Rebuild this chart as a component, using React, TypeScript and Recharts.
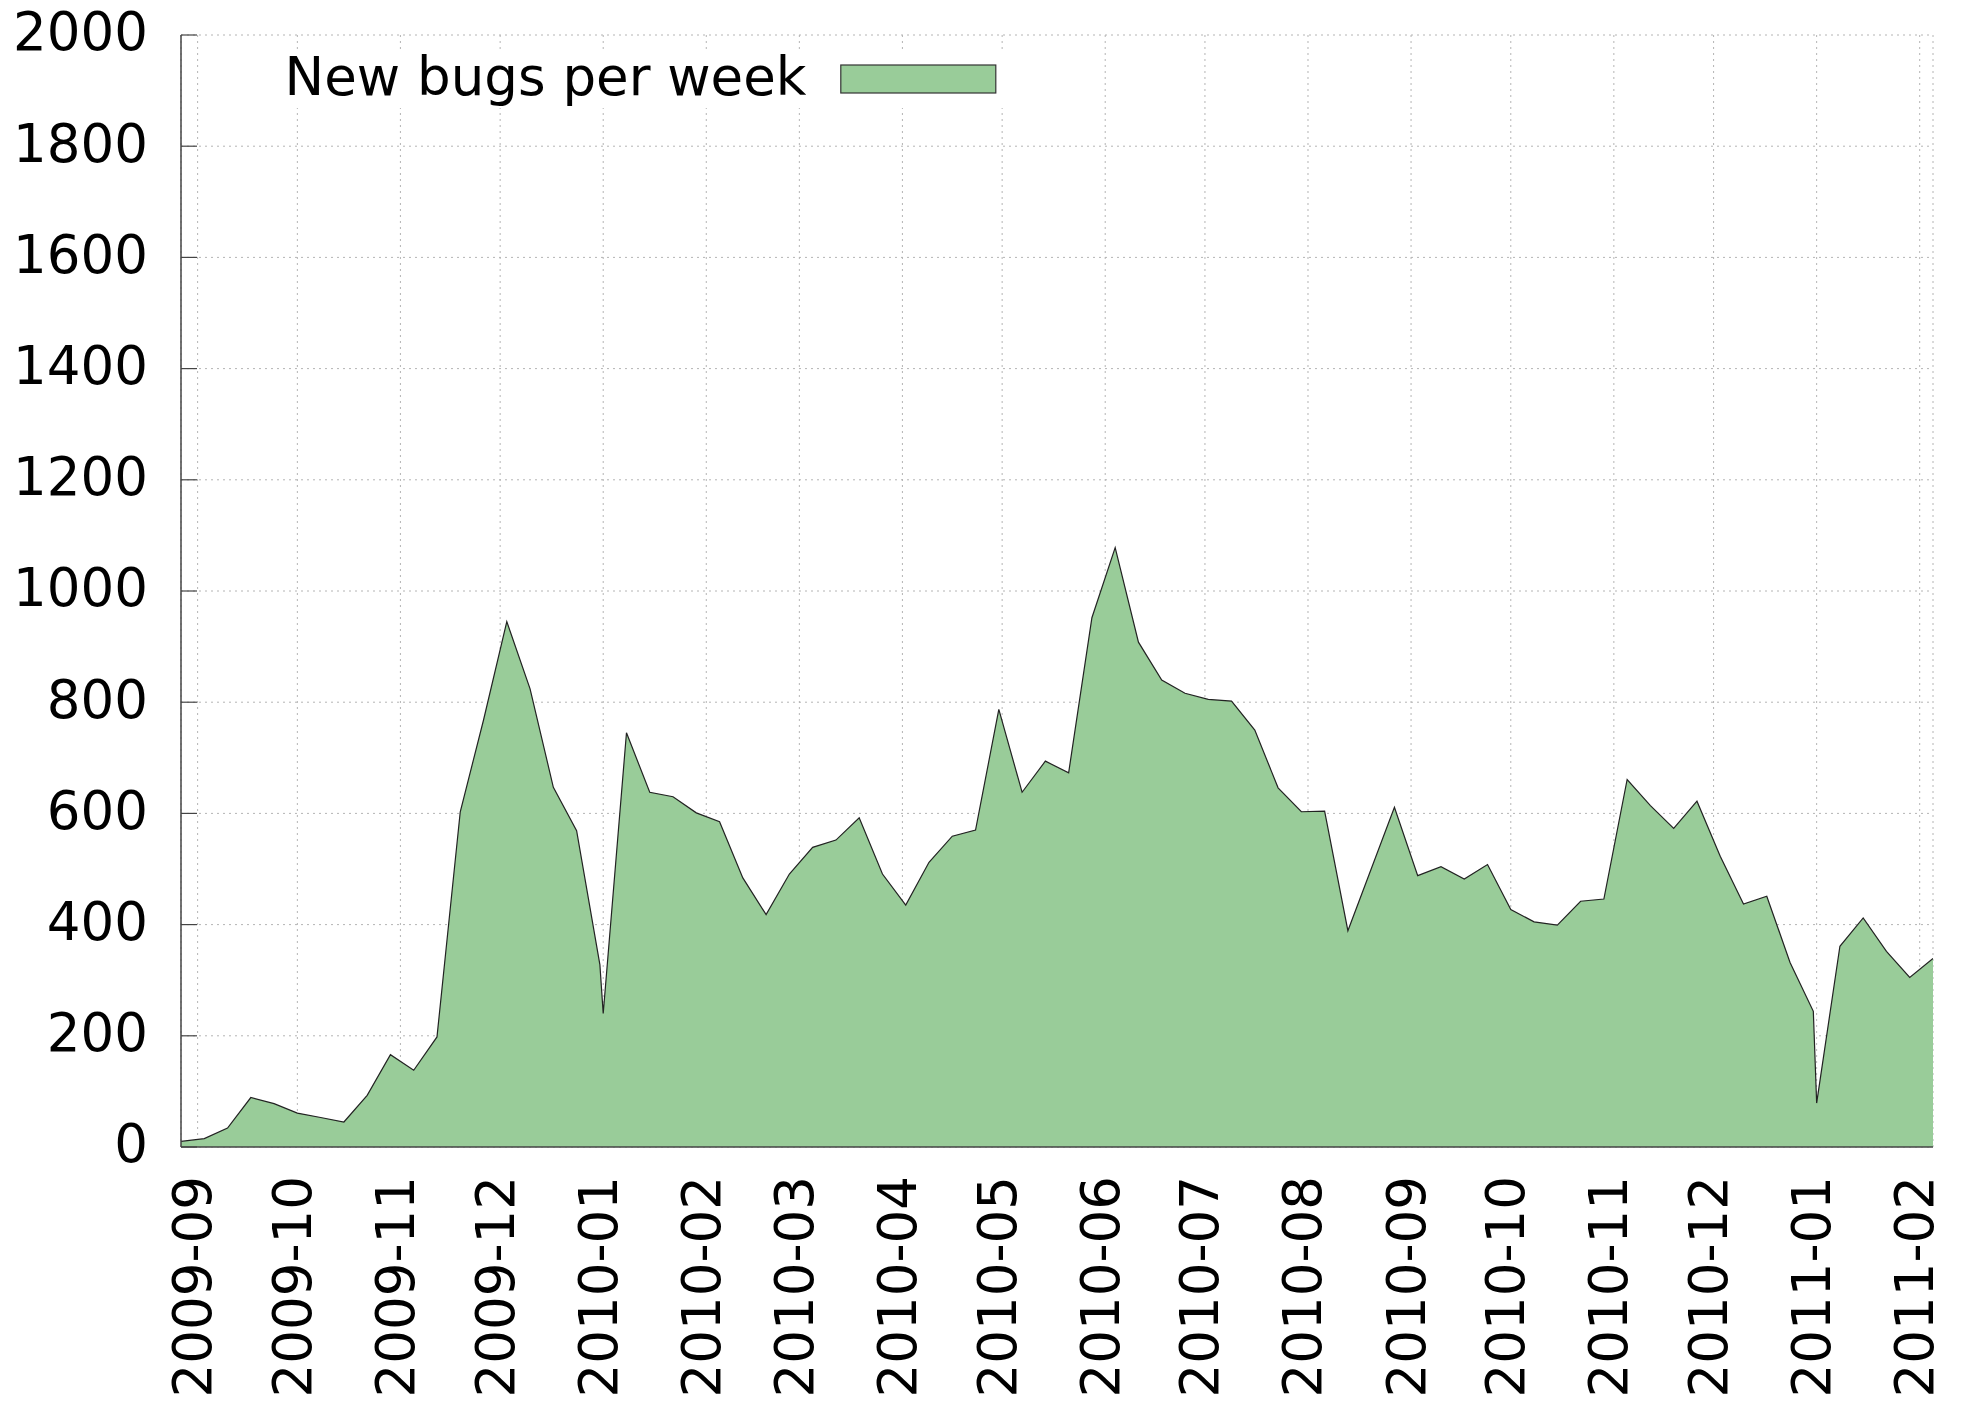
import React from "react";
import { AreaChart, Area, XAxis, YAxis, CartesianGrid, Legend } from "recharts";

// week start dates (weeks counted from Jan 1 of each year, as in the source plot)
const weekStarts = [
  "2009-08-27", "2009-09-03", "2009-09-10", "2009-09-17", "2009-09-24",
  "2009-10-01", "2009-10-08", "2009-10-15", "2009-10-22", "2009-10-29",
  "2009-11-05", "2009-11-12", "2009-11-19", "2009-11-26", "2009-12-03",
  "2009-12-10", "2009-12-17", "2009-12-24", "2009-12-31",
  "2010-01-01", "2010-01-08", "2010-01-15", "2010-01-22", "2010-01-29",
  "2010-02-05", "2010-02-12", "2010-02-19", "2010-02-26", "2010-03-05",
  "2010-03-12", "2010-03-19", "2010-03-26", "2010-04-02", "2010-04-09",
  "2010-04-16", "2010-04-23", "2010-04-30", "2010-05-07", "2010-05-14",
  "2010-05-21", "2010-05-28", "2010-06-04", "2010-06-11", "2010-06-18",
  "2010-06-25", "2010-07-02", "2010-07-09", "2010-07-16", "2010-07-23",
  "2010-07-30", "2010-08-06", "2010-08-13", "2010-08-20", "2010-08-27",
  "2010-09-03", "2010-09-10", "2010-09-17", "2010-09-24", "2010-10-01",
  "2010-10-08", "2010-10-15", "2010-10-22", "2010-10-29", "2010-11-05",
  "2010-11-12", "2010-11-19", "2010-11-26", "2010-12-03", "2010-12-10",
  "2010-12-17", "2010-12-24", "2010-12-31",
  "2011-01-01", "2011-01-08", "2011-01-15", "2011-01-22", "2011-01-29",
  "2011-02-05",
];

const newBugs = [
  10, 15, 34, 89, 78, 61, 53, 45, 93, 166, 138, 198, 603, 768, 945, 824, 647, 569, 328,
  240, 745, 638, 630, 601, 585, 484, 418, 491, 539, 552, 592, 491, 435, 512, 559, 570,
  787, 638, 694, 673, 952, 1078, 908, 840, 816, 805, 802, 750, 646, 603, 604, 389, 500,
  611, 488, 504, 482, 508, 427, 405, 399, 442, 446, 661, 614, 573, 622, 523, 437, 451,
  332, 244,
  79, 361, 412, 352, 305, 339,
];

const monthTicks = [
  "2009-09", "2009-10", "2009-11", "2009-12", "2010-01", "2010-02", "2010-03",
  "2010-04", "2010-05", "2010-06", "2010-07", "2010-08", "2010-09", "2010-10",
  "2010-11", "2010-12", "2011-01", "2011-02",
];

const yTicks = [0, 200, 400, 600, 800, 1000, 1200, 1400, 1600, 1800, 2000];

const seriesName = "New bugs per week";

const FONT = "DejaVu Sans";
const GREEN = "#99cc99";
const BORDER = "#444";
const FS = 53;

const toTime = (s: string) => Date.parse(s.length === 7 ? `${s}-01` : s);

const data = weekStarts.map((d, i) => ({ t: toTime(d), bugs: newBugs[i] }));
const majorTimes = monthTicks.map(toTime);

// gnuplot-style minor tics: each month split in four
const minorTimes: number[] = [];
for (let i = 0; i + 1 < majorTimes.length; i++) {
  const step = (majorTimes[i + 1] - majorTimes[i]) / 4;
  for (let k = 1; k < 4; k++) minorTimes.push(majorTimes[i] + k * step);
}
const topTimes = [...majorTimes, ...minorTimes].sort((a, b) => a - b);
const xDomain = [data[0].t, data[data.length - 1].t];

// bottom tics sit under the filled area in the original, so only labels here
function BottomTick({ x, y, payload }: any) {
  const label = new Date(payload.value).toISOString().slice(0, 7);
  return (
    <text
      transform={`translate(${x + 13.5},${y + 29}) rotate(-90)`}
      textAnchor="end"
      fontFamily={FONT}
      fontSize={FS}
      fill="#000"
    >
      {label}
    </text>
  );
}

function TopTick({ x, y, payload }: any) {
  const major = majorTimes.includes(payload.value);
  return <line x1={x} x2={x} y1={y} y2={y + (major ? 16 : 8)} stroke={BORDER} strokeWidth={1.2} />;
}

function LeftTick({ x, y, payload }: any) {
  return (
    <g>
      <line x1={x + 33} x2={x + 49} y1={y} y2={y} stroke={BORDER} strokeWidth={1.2} />
      <text x={x} y={y + 15.3} textAnchor="end" fontFamily={FONT} fontSize={FS} fill="#000">
        {payload.value}
      </text>
    </g>
  );
}

function RightTick({ x, y }: any) {
  return <line x1={x} x2={x - 16} y1={y} y2={y} stroke={BORDER} strokeWidth={1.2} />;
}

function KeyBox({ payload }: any) {
  const item = payload && payload[0];
  return (
    <svg width={785} height={90} style={{ display: "block", overflow: "visible" }}>
      <rect y={16} width={785} height={56} fill="#fff" />
      <text x={59.6} y={59} fontFamily={FONT} fontSize={FS} fill="#000">
        {item?.value ?? seriesName}
      </text>
      <rect x={615.8} y={29} width={155} height={28} fill={GREEN} stroke="#333" strokeWidth={1.2} />
    </svg>
  );
}

export default function App() {
  const axisLine = { stroke: BORDER, strokeWidth: 1.5 };
  return (
    <div style={{ position: "absolute", left: 0, top: 0, background: "#fff" }}>
      <AreaChart
        width={1962}
        height={1403}
        data={data}
        margin={{ top: 35, right: 29, bottom: 0, left: 0 }}
      >
        <CartesianGrid xAxisId="b" yAxisId="l" stroke="#b4b4b4" strokeDasharray="2 4" />
        <XAxis
          xAxisId="b"
          dataKey="t"
          type="number"
          domain={xDomain}
          allowDataOverflow
          ticks={majorTimes}
          interval={0}
          height={256}
          tickSize={0}
          tickMargin={0}
          tickLine={false}
          axisLine={axisLine}
          tick={<BottomTick />}
        />
        <XAxis
          xAxisId="t"
          orientation="top"
          dataKey="t"
          type="number"
          domain={xDomain}
          allowDataOverflow
          ticks={topTimes}
          interval={0}
          height={0}
          tickSize={0}
          tickMargin={0}
          tickLine={false}
          axisLine={axisLine}
          tick={<TopTick />}
        />
        <YAxis
          yAxisId="l"
          type="number"
          domain={[0, 2000]}
          allowDataOverflow
          ticks={yTicks}
          interval={0}
          width={181}
          tickSize={0}
          tickMargin={33}
          tickLine={false}
          axisLine={axisLine}
          tick={<LeftTick />}
        />
        <YAxis
          yAxisId="r"
          orientation="right"
          type="number"
          domain={[0, 2000]}
          allowDataOverflow
          ticks={yTicks}
          interval={0}
          width={0}
          tickSize={0}
          tickMargin={0}
          tickLine={false}
          axisLine={axisLine}
          tick={<RightTick />}
        />
        <Legend
          layout="vertical"
          align="center"
          verticalAlign="middle"
          wrapperStyle={{ left: 225, top: 36, width: 785, height: 90 }}
          content={<KeyBox />}
        />
        <Area
          xAxisId="b"
          yAxisId="l"
          type="linear"
          dataKey="bugs"
          name={seriesName}
          stroke="#222"
          strokeWidth={1.2}
          fill={GREEN}
          fillOpacity={1}
          dot={false}
          activeDot={false}
          isAnimationActive={false}
        />
      </AreaChart>
    </div>
  );
}
